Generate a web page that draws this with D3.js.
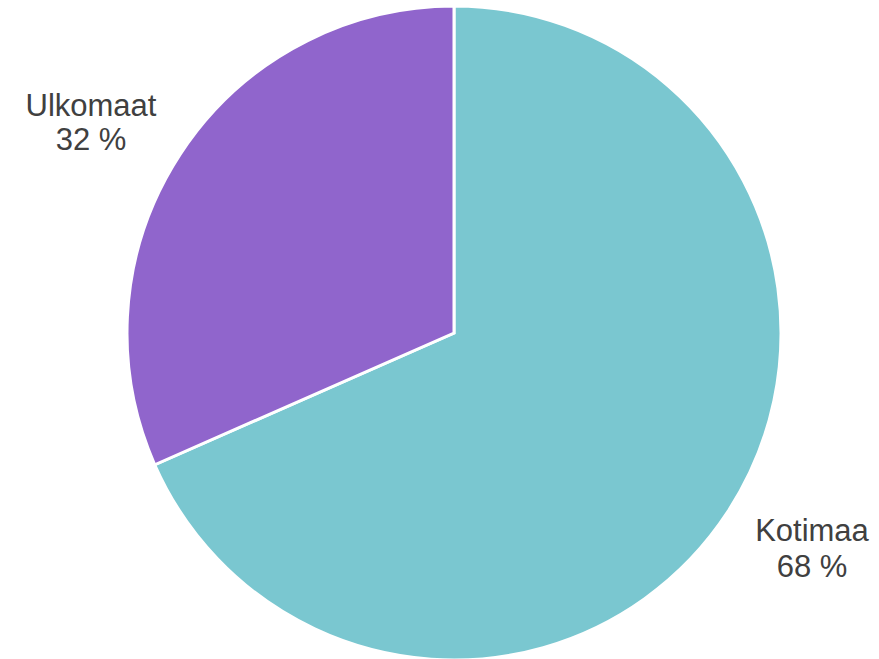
<!DOCTYPE html>
<html><head><meta charset="utf-8">
<script src="https://cdn.jsdelivr.net/npm/d3@7"></script>
<style>body{margin:0;background:#fff}svg{display:block}</style>
</head><body>
<svg id="c" width="879" height="659"></svg>
<script>
const categories = ["Kotimaa", "Ulkomaat"];
const values = [68.4, 31.6];
const colors = ["#7AC7D0", "#9065CC"];
const valueLabels = ["68 %", "32 %"];

const svg = d3.select("#c");
const cx = 454, cy = 333, r = 327;
const g = svg.append("g").attr("transform", `translate(${cx},${cy})`);
const pie = d3.pie().sort(null).value(d => d.v);
const data = categories.map((c, i) => ({c, v: values[i], col: colors[i], lab: valueLabels[i]}));
const arcs = pie(data);
const arc = d3.arc().innerRadius(0).outerRadius(r);
g.selectAll("path").data(arcs).join("path")
  .attr("d", arc).attr("fill", d => d.data.col)
  .attr("stroke", "#fff").attr("stroke-width", 3).attr("stroke-linejoin", "miter");

const labelPos = [[812, 541, 577], [91, 116, 150]];
arcs.forEach((a, i) => {
  const [x, y1, y2] = labelPos[i];
  const t = svg.append("text").attr("text-anchor", "middle")
    .style("font-family", "'Liberation Sans', Arial, sans-serif").attr("font-size", 31).attr("fill", "#404040");
  t.append("tspan").attr("x", x).attr("y", y1).text(a.data.c);
  t.append("tspan").attr("x", x).attr("y", y2).text(a.data.lab);
});
</script>
</body></html>
